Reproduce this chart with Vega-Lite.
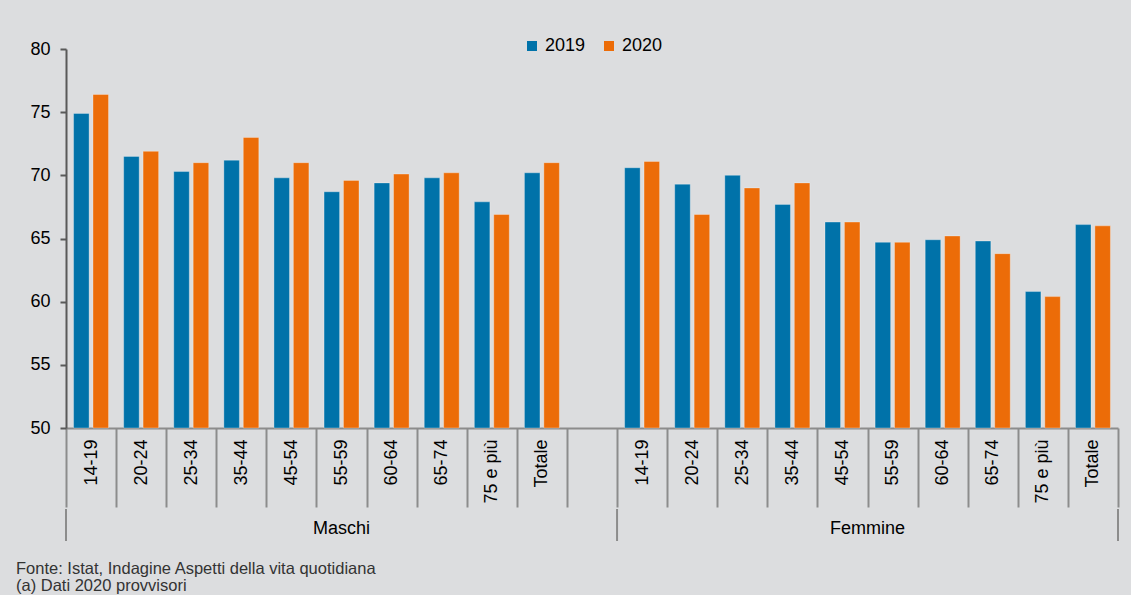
{
  "$schema": "https://vega.github.io/schema/vega-lite/v6.json",
  "background": "#dcdddf",
  "padding": {"left": 16, "top": 37, "right": 12, "bottom": 0},
  "config": {"font": "Liberation Sans", "view": {"stroke": null}, "concat": {"spacing": 0}},
  "title": {
    "text": ["Fonte: Istat, Indagine Aspetti della vita quotidiana", "(a) Dati 2020 provvisori"],
    "orient": "bottom",
    "anchor": "start",
    "frame": "group",
    "dx": -50,
    "offset": 19,
    "fontSize": 16.5,
    "fontWeight": "normal",
    "color": "#333333",
    "lineHeight": 17,
    "font": "Liberation Sans"
  },
  "datasets": {
    "valori": [
      {"sesso": "Maschi", "eta": "14-19", "anno": "2019", "valore": 74.9},
      {"sesso": "Maschi", "eta": "14-19", "anno": "2020", "valore": 76.4},
      {"sesso": "Maschi", "eta": "20-24", "anno": "2019", "valore": 71.5},
      {"sesso": "Maschi", "eta": "20-24", "anno": "2020", "valore": 71.9},
      {"sesso": "Maschi", "eta": "25-34", "anno": "2019", "valore": 70.3},
      {"sesso": "Maschi", "eta": "25-34", "anno": "2020", "valore": 71.0},
      {"sesso": "Maschi", "eta": "35-44", "anno": "2019", "valore": 71.2},
      {"sesso": "Maschi", "eta": "35-44", "anno": "2020", "valore": 73.0},
      {"sesso": "Maschi", "eta": "45-54", "anno": "2019", "valore": 69.8},
      {"sesso": "Maschi", "eta": "45-54", "anno": "2020", "valore": 71.0},
      {"sesso": "Maschi", "eta": "55-59", "anno": "2019", "valore": 68.7},
      {"sesso": "Maschi", "eta": "55-59", "anno": "2020", "valore": 69.6},
      {"sesso": "Maschi", "eta": "60-64", "anno": "2019", "valore": 69.4},
      {"sesso": "Maschi", "eta": "60-64", "anno": "2020", "valore": 70.1},
      {"sesso": "Maschi", "eta": "65-74", "anno": "2019", "valore": 69.8},
      {"sesso": "Maschi", "eta": "65-74", "anno": "2020", "valore": 70.2},
      {"sesso": "Maschi", "eta": "75 e più", "anno": "2019", "valore": 67.9},
      {"sesso": "Maschi", "eta": "75 e più", "anno": "2020", "valore": 66.9},
      {"sesso": "Maschi", "eta": "Totale", "anno": "2019", "valore": 70.2},
      {"sesso": "Maschi", "eta": "Totale", "anno": "2020", "valore": 71.0},
      {"sesso": "Femmine", "eta": "14-19", "anno": "2019", "valore": 70.6},
      {"sesso": "Femmine", "eta": "14-19", "anno": "2020", "valore": 71.1},
      {"sesso": "Femmine", "eta": "20-24", "anno": "2019", "valore": 69.3},
      {"sesso": "Femmine", "eta": "20-24", "anno": "2020", "valore": 66.9},
      {"sesso": "Femmine", "eta": "25-34", "anno": "2019", "valore": 70.0},
      {"sesso": "Femmine", "eta": "25-34", "anno": "2020", "valore": 69.0},
      {"sesso": "Femmine", "eta": "35-44", "anno": "2019", "valore": 67.7},
      {"sesso": "Femmine", "eta": "35-44", "anno": "2020", "valore": 69.4},
      {"sesso": "Femmine", "eta": "45-54", "anno": "2019", "valore": 66.3},
      {"sesso": "Femmine", "eta": "45-54", "anno": "2020", "valore": 66.3},
      {"sesso": "Femmine", "eta": "55-59", "anno": "2019", "valore": 64.7},
      {"sesso": "Femmine", "eta": "55-59", "anno": "2020", "valore": 64.7},
      {"sesso": "Femmine", "eta": "60-64", "anno": "2019", "valore": 64.9},
      {"sesso": "Femmine", "eta": "60-64", "anno": "2020", "valore": 65.2},
      {"sesso": "Femmine", "eta": "65-74", "anno": "2019", "valore": 64.8},
      {"sesso": "Femmine", "eta": "65-74", "anno": "2020", "valore": 63.8},
      {"sesso": "Femmine", "eta": "75 e più", "anno": "2019", "valore": 60.8},
      {"sesso": "Femmine", "eta": "75 e più", "anno": "2020", "valore": 60.4},
      {"sesso": "Femmine", "eta": "Totale", "anno": "2019", "valore": 66.1},
      {"sesso": "Femmine", "eta": "Totale", "anno": "2020", "valore": 66.0}
    ]
  },
  "resolve": {"scale": {"x": "shared"}},
  "vconcat": [
    {
      "width": 1052,
      "height": 379,
      "data": {"name": "valori"},
      "transform": [{"calculate": "(datum.sesso == 'Maschi' ? 'M|' : 'F|') + datum.eta", "as": "chiave"}],
      "mark": {"type": "bar", "stroke": "#ffffff", "strokeOpacity": 0.3, "strokeWidth": 1},
      "encoding": {
        "x": {
          "field": "chiave",
          "type": "nominal",
          "title": null,
          "scale": {
            "domain": ["M|14-19", "M|20-24", "M|25-34", "M|35-44", "M|45-54", "M|55-59", "M|60-64", "M|65-74", "M|75 e più", "M|Totale", "G|", "F|14-19", "F|20-24", "F|25-34", "F|35-44", "F|45-54", "F|55-59", "F|60-64", "F|65-74", "F|75 e più", "F|Totale"],
            "paddingInner": 0,
            "paddingOuter": 0
          },
          "axis": {
            "tickBand": "extent",
            "tickSize": 79,
            "tickWidth": 2,
            "tickColor": "#8c8c8c",
            "domainColor": "#8c8c8c",
            "domainWidth": 2,
            "labelAngle": -90,
            "labelFontSize": 18,
            "labelColor": "#000000",
            "labelPadding": -68,
            "labelOverlap": false,
            "labelExpr": "slice(datum.label, 2)"
          }
        },
        "xOffset": {"field": "anno", "type": "nominal", "scale": {"paddingInner": 0.2, "paddingOuter": 0.39}},
        "y": {
          "field": "valore",
          "type": "quantitative",
          "title": null,
          "scale": {"domain": [50, 80], "zero": false, "nice": false},
          "axis": {
            "values": [50, 55, 60, 65, 70, 75, 80],
            "grid": false,
            "tickSize": 6,
            "tickWidth": 2,
            "tickColor": "#595959",
            "domainColor": "#595959",
            "domainWidth": 2,
            "labelFontSize": 18,
            "labelColor": "#000000",
            "labelPadding": 10
          }
        },
        "y2": {"datum": 50},
        "color": {
          "field": "anno",
          "type": "nominal",
          "scale": {"domain": ["2019", "2020"], "range": ["#0072a9", "#ec6c08"]},
          "legend": {
            "title": null,
            "orient": "none",
            "legendX": 457,
            "legendY": -12,
            "direction": "horizontal",
            "symbolType": "square",
            "symbolSize": 100,
            "symbolStrokeWidth": 0,
            "labelFontSize": 18,
            "labelColor": "#000000",
            "labelOffset": 4,
            "columnPadding": 14,
            "padding": 0
          }
        }
      }
    },
    {
      "width": 1052,
      "height": 32,
      "layer": [
        {
          "data": {"values": [{"chiave": "M|14-19"}, {"chiave": "F|14-19"}]},
          "mark": {"type": "rule", "color": "#8c8c8c", "strokeWidth": 2},
          "encoding": {
            "x": {"field": "chiave", "type": "nominal", "bandPosition": 0, "axis": null,
              "scale": {"domain": ["M|14-19", "M|20-24", "M|25-34", "M|35-44", "M|45-54", "M|55-59", "M|60-64", "M|65-74", "M|75 e più", "M|Totale", "G|", "F|14-19", "F|20-24", "F|25-34", "F|35-44", "F|45-54", "F|55-59", "F|60-64", "F|65-74", "F|75 e più", "F|Totale"], "paddingInner": 0, "paddingOuter": 0}}
          }
        },
        {
          "data": {"values": [{"chiave": "F|Totale"}]},
          "mark": {"type": "rule", "color": "#8c8c8c", "strokeWidth": 2},
          "encoding": {
            "x": {"field": "chiave", "type": "nominal", "bandPosition": 1, "axis": null,
              "scale": {"domain": ["M|14-19", "M|20-24", "M|25-34", "M|35-44", "M|45-54", "M|55-59", "M|60-64", "M|65-74", "M|75 e più", "M|Totale", "G|", "F|14-19", "F|20-24", "F|25-34", "F|35-44", "F|45-54", "F|55-59", "F|60-64", "F|65-74", "F|75 e più", "F|Totale"], "paddingInner": 0, "paddingOuter": 0}}
          }
        },
        {
          "data": {"values": [{"chiave": "M|55-59", "gruppo": "Maschi"}]},
          "mark": {"type": "text", "fontSize": 18, "color": "#000000", "dy": 4},
          "encoding": {
            "x": {"field": "chiave", "type": "nominal", "bandPosition": 0.5, "axis": null,
              "scale": {"domain": ["M|14-19", "M|20-24", "M|25-34", "M|35-44", "M|45-54", "M|55-59", "M|60-64", "M|65-74", "M|75 e più", "M|Totale", "G|", "F|14-19", "F|20-24", "F|25-34", "F|35-44", "F|45-54", "F|55-59", "F|60-64", "F|65-74", "F|75 e più", "F|Totale"], "paddingInner": 0, "paddingOuter": 0}},
            "text": {"field": "gruppo"}
          }
        },
        {
          "data": {"values": [{"chiave": "F|55-59", "gruppo": "Femmine"}]},
          "mark": {"type": "text", "fontSize": 18, "color": "#000000", "dy": 4},
          "encoding": {
            "x": {"field": "chiave", "type": "nominal", "bandPosition": 0, "axis": null,
              "scale": {"domain": ["M|14-19", "M|20-24", "M|25-34", "M|35-44", "M|45-54", "M|55-59", "M|60-64", "M|65-74", "M|75 e più", "M|Totale", "G|", "F|14-19", "F|20-24", "F|25-34", "F|35-44", "F|45-54", "F|55-59", "F|60-64", "F|65-74", "F|75 e più", "F|Totale"], "paddingInner": 0, "paddingOuter": 0}},
            "text": {"field": "gruppo"}
          }
        }
      ]
    }
  ]
}
